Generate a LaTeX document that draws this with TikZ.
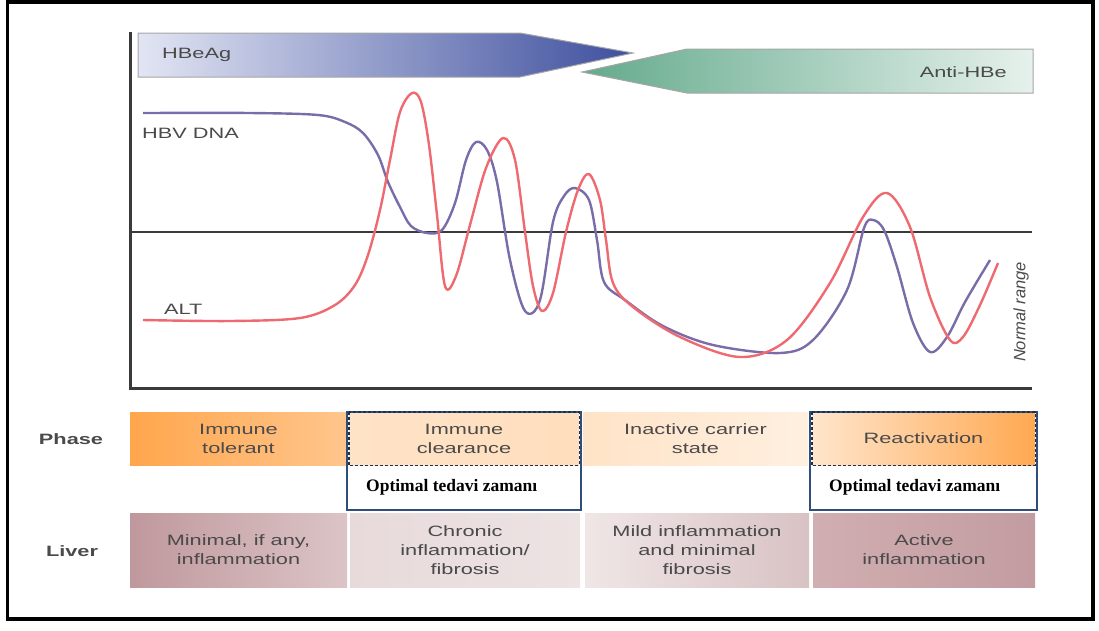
\documentclass[tikz,border=0pt]{standalone}
\usepackage{fontspec}
\setmainfont{Liberation Sans}[FakeStretch=1.45]
\newfontfamily\rangefont{Liberation Sans}
\newfontfamily\notefont{Liberation Serif}

\definecolor{hbvline}{HTML}{7A6CA8}
\definecolor{altline}{HTML}{EE6A70}
\definecolor{axisgray}{HTML}{3A3A3A}
\definecolor{textgray}{HTML}{4A4A4A}
\definecolor{beagA}{HTML}{E2E5F3}
\definecolor{beagB}{HTML}{3E4F9E}
\definecolor{antiA}{HTML}{64AA8C}
\definecolor{antiB}{HTML}{E6F1EC}
\definecolor{optblue}{HTML}{2F4E7A}
\definecolor{dashnavy}{HTML}{1F2F50}
\definecolor{liverA}{HTML}{BF989D}
\definecolor{liverB}{HTML}{DCC4C6}
\definecolor{liverC}{HTML}{E8DADB}
\definecolor{liverD}{HTML}{EDE3E3}
\definecolor{liverE}{HTML}{F0E6E6}
\definecolor{liverF}{HTML}{D8C2C4}
\definecolor{liverG}{HTML}{D1AEB1}
\definecolor{liverH}{HTML}{C29CA0}

\tikzset{
	boxtext/.style={text=textgray, align=center, font=\fontsize{15}{19}\selectfont, inner sep=0pt},
	rowbox/.style={boxtext, draw=none},
	lbl/.style={text=textgray, font=\fontsize{15}{18}\selectfont, inner sep=1pt},
	rowlbl/.style={text=textgray, font=\bfseries\fontsize{15}{18}\selectfont, inner sep=1pt},
	curve/.style={line width=2.4pt, line join=round},
	optbox/.style={draw=optblue, line width=2pt},
	dashbox/.style={draw=dashnavy, line width=1.4pt, densely dashed},
	opttext/.style={font=\notefont\bfseries\fontsize{17.5}{19}\selectfont, anchor=west, inner sep=0pt}
}

\begin{document}
\begin{tikzpicture}[x=1pt, y=-1pt]
	\useasboundingbox (0,0) rectangle (1099,630);

	% frame
	\draw[line width=3.5pt] (7.5,2) rectangle (1093,619);

	% marker arrows
	\shade[left color=beagA, right color=beagB, draw=gray!70, line width=1pt]
		(138,33) -- (520,33) -- (633,53) -- (520,77) -- (138,77) -- cycle;
	\shade[left color=antiA, right color=antiB, draw=gray!70, line width=1pt]
		(1033,49) -- (687,49) -- (582,72) -- (687,93) -- (1033,93) -- cycle;
	\node[lbl, anchor=west] (hbeag) at (161,55) {HBeAg};
	\node[lbl, anchor=east] (antihbe) at (1008,72) {Anti-HBe};

	% axes and normal range
	\draw[axisgray, line width=3pt] (130,32) -- (130,388) -- (1032,388);
	\draw[axisgray, line width=2pt] (130,232) -- (1032,232);
	\node[text=textgray, rotate=90, inner sep=0pt, font=\rangefont\itshape\fontsize{16.5}{18}\selectfont] (normal) at (1021,312) {Normal range};

	% HBV DNA
	\draw[curve, hbvline] plot[smooth, tension=0.55] coordinates {
		(143,113) (250,113) (318,115) (345,122) (363,133) (378,155) (388,182) (400,207)
		(411,226) (427,233) (442,230) (455,203) (466,160) (476,142) (487,150) (497,182)
		(510,260) (525,311) (540,300) (553,222) (564,196) (575,188) (589,200) (597,240)
		(604,282) (625,300) (663,326) (713,345) (780,353) (813,340) (847,290) (864,228)
		(873,220) (884,230) (897,267) (913,323) (930,352) (947,337) (965,302) (990,260)};
	\node[lbl, anchor=west] (hbv) at (141,133) {HBV DNA};

	% ALT
	\draw[curve, altline] plot[smooth, tension=0.55] coordinates {
		(143,320) (230,321) (300,318) (335,305) (355,285) (368,255) (380,210) (390,160)
		(400,112) (412,93) (421,102) (429,145) (437,215) (445,286) (456,276) (470,225)
		(486,168) (503,138) (515,160) (525,232) (533,286) (542,311) (553,293) (566,232)
		(578,190) (589,174) (600,200) (606,240) (613,283) (633,307) (680,337) (740,357)
		(787,340) (830,283) (863,217) (887,193) (910,227) (930,297) (950,340) (963,337)
		(980,305) (998,263)};
	\node[lbl, anchor=west] (alt) at (163,309) {ALT};

	% phase row
	\node[rowlbl] (phase) at (71,439) {Phase};
	\foreach \name/\xl/\xr/\colA/\colB/\txt in {%
		tolerant/130/347/{orange!70!white}/{orange!45!white}/{Immune\\tolerant},
		clearance/349/579/{orange!22!white}/{orange!26!white}/{Immune\\clearance},
		inactive/583/808/{orange!22!white}/{orange!12!white}/{Inactive carrier\\state},
		reactive/812/1035/{orange!20!white}/{orange!68!white}/{Reactivation}%
	}{
		\pgfmathsetmacro\boxwd{\xr-\xl}
		\node[rowbox, left color=\colA, right color=\colB, minimum width=\boxwd pt, minimum height=53pt]
			(\name) at ({(\xl+\xr)/2},438.5) {\txt};
	}

	% liver row
	\node[rowlbl] (liver) at (72,551) {Liver};
	\foreach \name/\xl/\xr/\colA/\colB/\txt in {%
		minimal/130/347/liverA/liverB/{Minimal, if any,\\inflammation},
		chronic/350/580/liverC/liverD/{Chronic\\inflammation/\\fibrosis},
		mild/585/809/liverE/liverF/{Mild inflammation\\and minimal\\fibrosis},
		active/813/1035/liverG/liverH/{Active\\inflammation}%
	}{
		\pgfmathsetmacro\boxwd{\xr-\xl}
		\node[rowbox, left color=\colA, right color=\colB, minimum width=\boxwd pt, minimum height=74pt]
			(\name) at ({(\xl+\xr)/2},550) {\txt};
	}

	% optimal treatment windows
	\node[opttext] (optA) at (366,487) {Optimal tedavi zamanı};
	\node[opttext] (optB) at (829,487) {Optimal tedavi zamanı};
	\draw[optbox] (347,412) rectangle (581,510);
	\draw[optbox] (810,412) rectangle (1037,510);
	\draw[dashbox] (clearance.north west) rectangle (clearance.south east);
	\draw[dashbox] (reactive.north west) rectangle (reactive.south east);

\end{tikzpicture}
\end{document}
